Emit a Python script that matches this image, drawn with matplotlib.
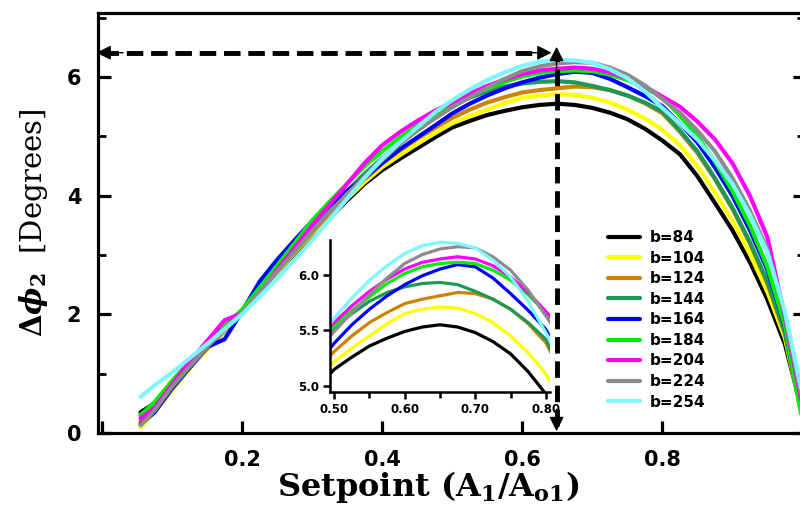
import matplotlib
matplotlib.use("Agg")
import matplotlib.pyplot as plt
from matplotlib.ticker import MultipleLocator, FixedLocator

# setpoint grid (A1/Ao1)
setpoint = [0.055, 0.075, 0.1, 0.125, 0.15, 0.175, 0.2, 0.225, 0.25, 0.275,
            0.3, 0.325, 0.35, 0.375, 0.4, 0.425, 0.45, 0.475,
            0.5, 0.525, 0.55, 0.575, 0.6, 0.625, 0.65, 0.675, 0.7, 0.725,
            0.75, 0.775, 0.8,
            0.825, 0.85, 0.875, 0.9, 0.925, 0.95, 0.975, 1.0]

labels = ["b=84", "b=104", "b=124", "b=144", "b=164", "b=184", "b=204", "b=224", "b=254"]
colors = ["#000000", "#ffff00", "#cc8400", "#1e9955", "#0000ff", "#00ee00",
          "#ff00ff", "#8c8c8c", "#7ff7ff"]

# delta phi_2 [deg]
b84 = [0.35, 0.5, 0.8, 1.1, 1.42, 1.72, 2.02, 2.38, 2.7, 3.02, 3.32, 3.62, 3.92, 4.2, 4.43, 4.62, 4.8, 4.98,
       5.15, 5.26, 5.36, 5.43, 5.49, 5.53, 5.55, 5.53, 5.48, 5.4, 5.29, 5.13, 4.93,
       4.7, 4.33, 3.88, 3.42, 2.88, 2.25, 1.5, 0.35]
b104 = [0.1, 0.35, 0.72, 1.08, 1.42, 1.72, 2.02, 2.38, 2.7, 3.04, 3.36, 3.66, 3.95, 4.23, 4.48, 4.68, 4.87, 5.05,
        5.22, 5.34, 5.45, 5.56, 5.65, 5.69, 5.71, 5.7, 5.65, 5.57, 5.45, 5.3, 5.11,
        4.85, 4.5, 4.05, 3.58, 3.02, 2.38, 1.6, 0.3]
b124 = [0.2, 0.42, 0.78, 1.1, 1.43, 1.73, 2.02, 2.4, 2.72, 3.06, 3.38, 3.7, 4.0, 4.28, 4.54, 4.76, 4.96, 5.14,
        5.31, 5.45, 5.57, 5.66, 5.74, 5.78, 5.81, 5.84, 5.83, 5.78, 5.69, 5.56, 5.39,
        5.08, 4.72, 4.28, 3.78, 3.2, 2.52, 1.68, 0.3]
b144 = [0.3, 0.5, 0.85, 1.18, 1.5, 1.78, 2.06, 2.42, 2.76, 3.1, 3.46, 3.78, 4.08, 4.37, 4.63, 4.88, 5.1, 5.32,
        5.52, 5.65, 5.76, 5.84, 5.89, 5.92, 5.93, 5.91, 5.85, 5.78, 5.69, 5.57, 5.42,
        5.1, 4.75, 4.3, 3.8, 3.22, 2.55, 1.7, 0.25]
b164 = [0.15, 0.35, 0.75, 1.1, 1.45, 1.58, 2.05, 2.55, 2.92, 3.25, 3.57, 3.84, 4.08, 4.3, 4.55, 4.78, 4.98, 5.18,
        5.385, 5.55, 5.69, 5.81, 5.91, 5.99, 6.05, 6.09, 6.07, 5.97, 5.83, 5.68, 5.51,
        5.22, 4.9, 4.48, 4.0, 3.42, 2.75, 1.8, 0.3]
b184 = [0.3, 0.52, 0.88, 1.2, 1.52, 1.8, 2.08, 2.45, 2.82, 3.2, 3.58, 3.9, 4.2, 4.5, 4.75, 4.98, 5.18, 5.37,
        5.54, 5.68, 5.8, 5.92, 6.01, 6.07, 6.1, 6.11, 6.1, 6.04, 5.95, 5.82, 5.66,
        5.35, 5.0, 4.58, 4.08, 3.5, 2.8, 1.82, 0.2]
b204 = [0.25, 0.42, 0.82, 1.2, 1.55, 1.9, 2.02, 2.35, 2.75, 3.12, 3.5, 3.85, 4.2, 4.55, 4.85, 5.07, 5.26, 5.43,
        5.57, 5.72, 5.85, 5.96, 6.05, 6.11, 6.14, 6.16, 6.14, 6.08, 5.98, 5.84, 5.67,
        5.5, 5.25, 4.95, 4.55, 4.0, 3.3, 1.95, 0.45]
b224 = [0.13, 0.38, 0.78, 1.12, 1.45, 1.75, 2.03, 2.38, 2.72, 3.06, 3.4, 3.72, 4.03, 4.32, 4.6, 4.87, 5.1, 5.3,
        5.49, 5.66, 5.82, 5.97, 6.1, 6.18, 6.23, 6.25, 6.24, 6.16, 6.04, 5.86, 5.63,
        5.4, 5.1, 4.75, 4.3, 3.75, 3.1, 2.0, 0.55]
b254 = [0.61, 0.8, 1.02, 1.26, 1.5, 1.75, 2.0, 2.3, 2.6, 2.92, 3.25, 3.6, 3.95, 4.3, 4.62, 4.9, 5.15, 5.4,
        5.61, 5.79, 5.95, 6.08, 6.19, 6.26, 6.29, 6.28, 6.24, 6.13, 5.98, 5.76, 5.48,
        5.22, 4.95, 4.6, 4.2, 3.68, 3.05, 2.05, 0.65]

series = [b84, b104, b124, b144, b164, b184, b204, b224, b254]

peak_x = 0.649
peak_y = 6.41

plt.rcParams['mathtext.fontset'] = 'custom'
plt.rcParams['mathtext.rm'] = 'DejaVu Serif:bold'
plt.rcParams['mathtext.it'] = 'DejaVu Serif:italic:bold'
plt.rcParams['mathtext.bf'] = 'DejaVu Serif:bold'

fig = plt.figure(figsize=(8, 5.18), dpi=100)
ax = fig.add_axes([0.1225, 0.164, 0.884, 0.811])

for ys, c, lab in zip(series, colors, labels):
    ax.plot(setpoint, ys, color=c, lw=3, label=lab, solid_capstyle='round')

ax.set_xlim(-0.0057, 1.004)
ax.set_ylim(0, 7.08)

for s in ax.spines.values():
    s.set_linewidth(2.3)

ax.xaxis.set_major_locator(FixedLocator([0, 0.2, 0.4, 0.6, 0.8, 1.0]))
ax.set_xticklabels(['', '0.2', '0.4', '0.6', '0.8', ''])
ax.yaxis.set_major_locator(MultipleLocator(2))
ax.yaxis.set_minor_locator(MultipleLocator(1))
ax.tick_params(axis='both', which='major', direction='in', length=9, width=2.3,
               labelsize=15, right=True)
ax.tick_params(axis='y', which='minor', direction='in', length=6, width=2.0, right=True)
ax.tick_params(axis='x', which='major', pad=12)
ax.tick_params(axis='y', which='major', pad=12)
for t in ax.get_xticklabels() + ax.get_yticklabels():
    t.set_fontweight('bold')

ax.set_xlabel(r'Setpoint $(\mathrm{A_1/A_{o1}})$', fontsize=23, fontweight='bold',
              family='DejaVu Serif', labelpad=2)
ax.xaxis.set_label_coords(0.467, -0.085)
ax.set_ylabel(r'$\Delta\phi_2$  [Degrees]', fontsize=21, family='DejaVu Serif', labelpad=12)

# dashed guide arrows
dash = dict(color='k', lw=3.5, ls=(0, (3.4, 1.6)), clip_on=False)
ax.plot([0.0, peak_x - 0.02], [peak_y, peak_y], **dash)
ax.plot([peak_x, peak_x], [0.12, peak_y + 0.0], **dash)
head = dict(arrowstyle='-|>', color='k', lw=1, mutation_scale=22, shrinkA=0, shrinkB=0)
ax.annotate('', xy=(-0.008, peak_y), xytext=(0.03, peak_y), arrowprops=head, annotation_clip=False)
ax.annotate('', xy=(peak_x - 0.007, peak_y), xytext=(peak_x - 0.05, peak_y), arrowprops=head)
ax.annotate('', xy=(peak_x, peak_y + 0.1), xytext=(peak_x, peak_y - 0.3), arrowprops=head)
ax.annotate('', xy=(peak_x, 0.03), xytext=(peak_x, 0.4), arrowprops=head)

leg = ax.legend(loc='upper left', bbox_to_anchor=(0.76, 0.556), bbox_transform=fig.transFigure,
                frameon=False, prop={'weight': 'bold', 'size': 11}, handlelength=2.1,
                handletextpad=0.65, labelspacing=0.365, borderpad=0, borderaxespad=0)

# inset zoom on the peak
ins = fig.add_axes([0.4125, 0.2432, 0.275, 0.2934])
ins.patch.set_alpha(0)
for ys, c in zip(series, colors):
    ins.plot(setpoint, ys, color=c, lw=2.3)
ins.set_xlim(0.494, 0.806)
ins.set_ylim(4.947, 6.31)
ins.spines['top'].set_visible(False)
ins.spines['right'].set_visible(False)
ins.spines['left'].set_linewidth(1.8)
ins.spines['bottom'].set_linewidth(1.8)
ins.xaxis.set_major_locator(FixedLocator([0.5, 0.6, 0.7, 0.8]))
ins.xaxis.set_minor_locator(FixedLocator([0.55, 0.65, 0.75]))
ins.set_xticklabels(['0.50', '0.60', '0.70', '0.80'])
ins.yaxis.set_major_locator(FixedLocator([5.0, 5.5, 6.0]))
ins.set_yticklabels(['5.0', '5.5', '6.0'])
ins.tick_params(which='both', direction='out', width=1.8, labelsize=8.5, pad=3)
ins.tick_params(which='major', length=5)
ins.tick_params(which='minor', length=4)
for t in ins.get_xticklabels() + ins.get_yticklabels():
    t.set_fontweight('bold')

fig.savefig('out.png', dpi=100)
